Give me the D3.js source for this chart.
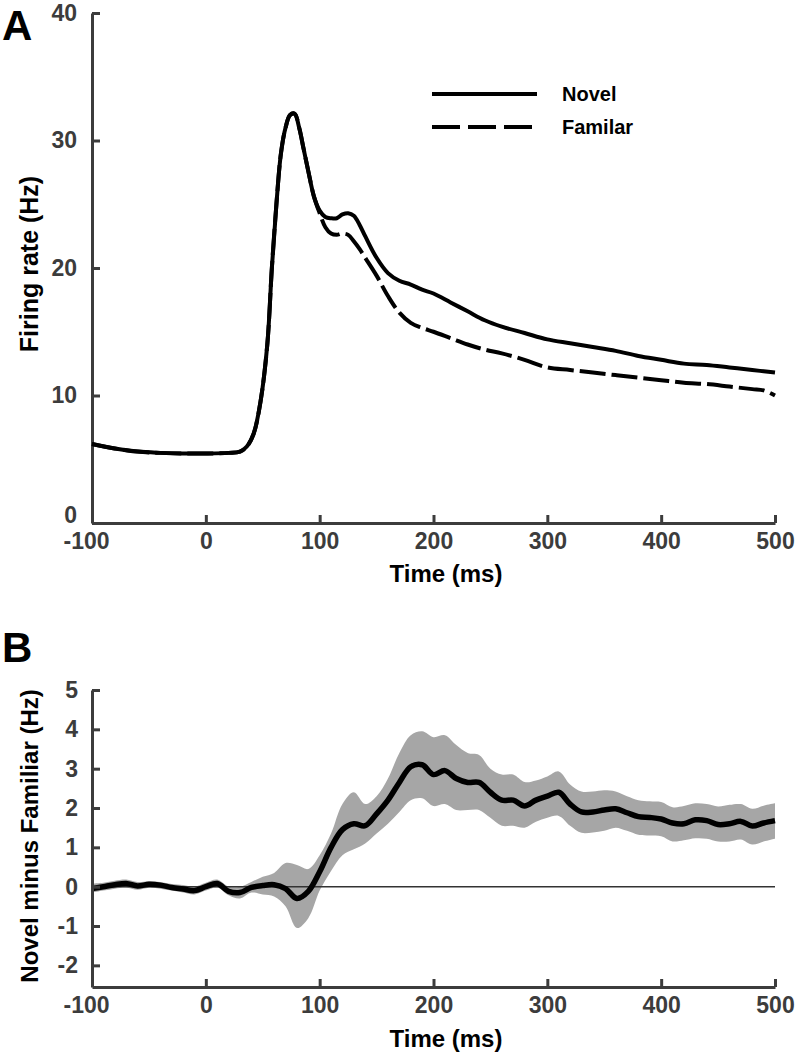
<!DOCTYPE html>
<html>
<head>
<meta charset="utf-8">
<script src="https://cdn.jsdelivr.net/npm/d3@7"></script>
<style>
  body { margin: 0; background: #fff; }
  svg { display: block; font-family: "Liberation Sans", Arial, sans-serif; }
  .tick text { fill: #3c3c3c; font-weight: bold; font-size: 23px; }
  .domain, .tick line { stroke: #3c3c3c; stroke-width: 3; }
</style>
</head>
<body>
<script>
// ---- panel A : firing rate ----
var timeA = [-100,-80,-60,-40,-20,0,20,30,36,42,48,54,58,62,66,70,74,78,82,86,90,95,100,105,110,115,120,125,130,135,140,150,160,170,180,190,200,215,230,245,260,280,300,320,340,360,380,400,420,440,460,480,490,500];
var novel = [6.2,5.85,5.6,5.5,5.45,5.45,5.5,5.6,6.0,7.0,9.5,14.0,20.0,25.0,29.0,31.0,32.0,32.1,31.0,29.3,27.6,25.6,24.5,24.0,23.9,23.9,24.2,24.3,24.1,23.4,22.5,20.8,19.6,19.0,18.7,18.3,18.0,17.3,16.6,15.9,15.4,14.9,14.4,14.1,13.8,13.5,13.1,12.8,12.5,12.4,12.2,12.0,11.9,11.8];
var familiar = [6.2,5.85,5.6,5.5,5.45,5.45,5.5,5.6,6.0,7.0,9.5,14.0,20.0,25.0,29.0,31.0,32.0,32.1,31.0,29.3,27.6,25.6,24.3,23.2,22.7,22.6,22.7,22.6,22.1,21.5,20.8,19.4,17.8,16.5,15.7,15.3,15.0,14.5,14.0,13.6,13.3,12.8,12.2,12.0,11.8,11.6,11.4,11.2,11.0,10.9,10.7,10.5,10.4,10.0];

// ---- panel B : novel minus familiar (mean and band) ----
var timeB = d3.range(-100, 501, 10);
var diffMean = [-0.05,0.0,0.05,0.08,0.02,0.06,0.04,-0.02,-0.06,-0.1,0.0,0.08,-0.12,-0.15,-0.02,0.03,0.05,-0.05,-0.3,-0.12,0.38,1.0,1.45,1.6,1.55,1.85,2.2,2.65,3.05,3.1,2.85,2.95,2.75,2.65,2.65,2.4,2.2,2.2,2.05,2.2,2.3,2.4,2.1,1.9,1.9,1.95,1.98,1.88,1.78,1.76,1.72,1.62,1.6,1.7,1.68,1.58,1.6,1.66,1.54,1.62,1.68];
var diffUpper = [0.08,0.1,0.15,0.18,0.12,0.14,0.12,0.07,0.04,0.0,0.1,0.18,0.0,0.0,0.12,0.25,0.35,0.6,0.55,0.45,0.8,1.35,2.1,2.4,2.1,2.3,2.75,3.4,3.85,3.95,3.8,3.85,3.6,3.4,3.35,3.0,2.85,2.85,2.66,2.7,2.8,2.93,2.6,2.42,2.42,2.45,2.42,2.3,2.2,2.17,2.15,2.02,2.05,2.12,2.1,2.04,2.08,2.1,1.98,2.06,2.12];
var diffLower = [-0.15,-0.1,-0.05,-0.02,-0.08,-0.03,-0.05,-0.1,-0.15,-0.2,-0.1,-0.02,-0.22,-0.3,-0.15,-0.2,-0.25,-0.5,-1.05,-0.8,-0.1,0.4,0.8,0.95,1.1,1.35,1.6,1.9,2.2,2.25,2.05,2.1,1.95,1.95,1.95,1.75,1.55,1.55,1.5,1.65,1.75,1.8,1.55,1.37,1.38,1.42,1.5,1.42,1.32,1.3,1.28,1.15,1.18,1.23,1.22,1.15,1.15,1.2,1.07,1.15,1.22];

var timeTicks = [-100,0,100,200,300,400,500];
var rateTicks = [0,10,20,30,40];
var diffTicks = [-2,-1,0,1,2,3,4,5];

var svg = d3.select("body").append("svg")
    .attr("width", 800)
    .attr("height", 1058);

var x = d3.scaleLinear().domain([-100, 500]).range([92, 775]);
var plain = function(d) { return String(d); };   // hyphen minus like the original

function timeAxis(y0) {
    var g = svg.append("g")
        .attr("transform", "translate(0," + y0 + ")")
        .call(d3.axisBottom(x).tickValues(timeTicks).tickSize(-8).tickSizeOuter(0).tickPadding(10).tickFormat(plain));
    // the -100 label sits a little left of its tick in the original
    g.selectAll(".tick text").filter(function(d) { return d < 0; }).attr("dx", -6);
    return g;
}

// ================= Panel A =================
var yA = d3.scaleLinear().domain([0, 40]).range([523, 13]);

timeAxis(523);

svg.append("g")
    .attr("transform", "translate(92,0)")
    .call(d3.axisLeft(yA).tickValues(rateTicks).tickSize(-8).tickSizeOuter(0).tickPadding(15))
    .selectAll(".tick text").filter(function(d) { return d === 0; })
    .attr("y", -8);

var lineA = d3.line().curve(d3.curveCatmullRom.alpha(0.5))
    .x(function(d, i) { return x(timeA[i]); })
    .y(function(d) { return yA(d); });

svg.append("path")
    .datum(familiar)
    .attr("d", lineA)
    .attr("fill", "none")
    .attr("stroke", "#000")
    .attr("stroke-width", 4)
    .attr("stroke-dasharray", "26,6");

svg.append("path")
    .datum(novel)
    .attr("d", lineA)
    .attr("fill", "none")
    .attr("stroke", "#000")
    .attr("stroke-width", 4);

// legend
var legend = [{name: "Novel", dash: null, y: 94}, {name: "Familar", dash: "28,8", y: 127}];
legend.forEach(function(l) {
    svg.append("line")
        .attr("x1", 432).attr("x2", 537)
        .attr("y1", l.y).attr("y2", l.y)
        .attr("stroke", "#000").attr("stroke-width", 4)
        .attr("stroke-dasharray", l.dash);
    svg.append("text")
        .attr("x", 562).attr("y", l.y)
        .attr("dy", "0.35em")
        .attr("font-size", 20).attr("font-weight", "bold")
        .text(l.name);
});

svg.append("text")
    .attr("x", 446).attr("y", 582)
    .attr("text-anchor", "middle")
    .attr("font-size", 24).attr("font-weight", "bold")
    .text("Time (ms)");

svg.append("text")
    .attr("transform", "translate(38,264) rotate(-90)")
    .attr("text-anchor", "middle")
    .attr("font-size", 25).attr("font-weight", "bold")
    .text("Firing rate (Hz)");

svg.append("text")
    .attr("x", 2).attr("y", 40)
    .attr("font-size", 42).attr("font-weight", "bold")
    .text("A");

// ================= Panel B =================
var yB = d3.scaleLinear().domain([-2.55, 5]).range([987, 690]);

// sem band
var band = d3.area().curve(d3.curveCatmullRom.alpha(0.5))
    .x(function(d, i) { return x(timeB[i]); })
    .y0(function(d, i) { return yB(diffLower[i]); })
    .y1(function(d) { return yB(d); });

svg.append("path")
    .datum(diffUpper)
    .attr("d", band)
    .attr("fill", "#a6a6a6");

// zero line
svg.append("line")
    .attr("x1", x(-100)).attr("x2", x(500))
    .attr("y1", yB(0)).attr("y2", yB(0))
    .attr("stroke", "#333").attr("stroke-width", 1.5);

var lineB = d3.line().curve(d3.curveCatmullRom.alpha(0.5))
    .x(function(d, i) { return x(timeB[i]); })
    .y(function(d) { return yB(d); });

svg.append("path")
    .datum(diffMean)
    .attr("d", lineB)
    .attr("fill", "none")
    .attr("stroke", "#000")
    .attr("stroke-width", 5.5)
    .attr("stroke-linejoin", "round");

timeAxis(987);

svg.append("g")
    .attr("transform", "translate(92,0)")
    .call(d3.axisLeft(yB).tickValues(diffTicks).tickSize(-8).tickSizeOuter(0).tickPadding(14).tickFormat(plain));

svg.append("text")
    .attr("x", 446).attr("y", 1047)
    .attr("text-anchor", "middle")
    .attr("font-size", 24).attr("font-weight", "bold")
    .text("Time (ms)");

svg.append("text")
    .attr("transform", "translate(38,836) rotate(-90)")
    .attr("text-anchor", "middle")
    .attr("font-size", 24).attr("font-weight", "bold")
    .text("Novel minus Familiar (Hz)");

svg.append("text")
    .attr("x", 2).attr("y", 662)
    .attr("font-size", 42).attr("font-weight", "bold")
    .text("B");
</script>
</body>
</html>
